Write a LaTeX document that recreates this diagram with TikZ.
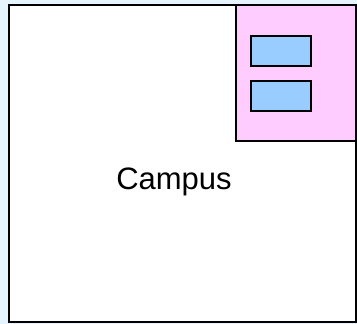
\documentclass[tikz,border=0pt]{standalone}
\usepackage{fontspec}
\setmainfont{Liberation Sans}
\definecolor{bgblue}{HTML}{E6F4FF}
\definecolor{roompink}{HTML}{FFCCFF}
\definecolor{deskblue}{HTML}{99CCFF}
\begin{document}
\begin{tikzpicture}[x=1pt,y=-1pt]
\tikzset{wall/.style={draw=black, line width=2pt}}
\fill[bgblue] (0,0) rectangle (357,324);
\useasboundingbox (0,0) rectangle (357,324);

\draw[wall, fill=white] (9,5) rectangle (356,322);
\draw[wall, fill=roompink] (236,5) rectangle (356,141);

\draw[wall, fill=deskblue] (251,36) rectangle (311,66);
\draw[wall, fill=deskblue] (251,81) rectangle (311,111);

\node[font=\fontsize{31}{36}\selectfont] (campus) at (174,182) {Campus};
\end{tikzpicture}
\end{document}
